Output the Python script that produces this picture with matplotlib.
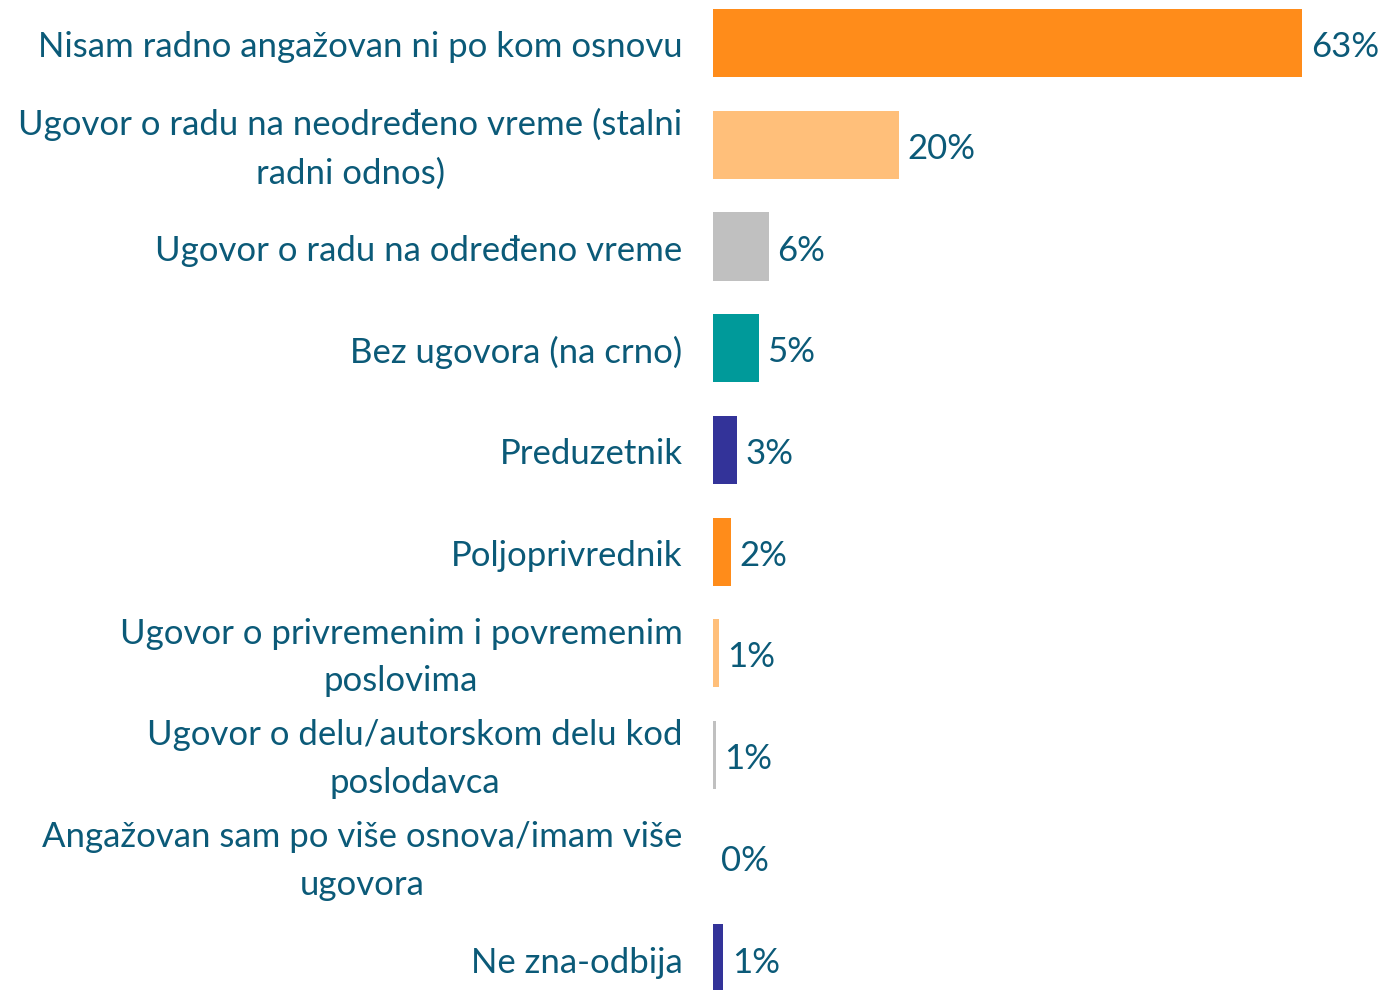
import matplotlib
matplotlib.use('Agg')
import matplotlib.pyplot as plt

# data
categories = [
    'Nisam radno angažovan ni po kom osnovu',
    'Ugovor o radu na neodređeno vreme (stalni\nradni odnos)',
    'Ugovor o radu na određeno vreme',
    'Bez ugovora (na crno)',
    'Preduzetnik',
    'Poljoprivrednik',
    'Ugovor o privremenim i povremenim\nposlovima',
    'Ugovor o delu/autorskom delu kod\nposlodavca',
    'Angažovan sam po više osnova/imam više\nugovora',
    'Ne zna-odbija',
]
values = [63.0, 19.9, 6.0, 4.9, 2.6, 1.9, 0.6, 0.3, 0.0, 1.1]
value_labels = ['63%', '20%', '6%', '5%', '3%', '2%', '1%', '1%', '0%', '1%']
bar_colors = ['#FF8C1A', '#FFBF7A', '#C0C0C0', '#009A9A', '#333399',
              '#FF8C1A', '#FFBF7A', '#C0C0C0', '#009A9A', '#333399']

text_color = '#0B5A78'

fig = plt.figure(figsize=(13.82, 9.90), dpi=100)
ax = fig.add_axes([713 / 1382, 0.0, 1 - 713 / 1382, 1.0])

y = list(range(len(categories)))
ax.barh(y, values, height=0.67, color=bar_colors)

ax.set_ylim(9.31, -0.423)
ax.set_xlim(0, 71.5)

for yi, v, lab in zip(y, values, value_labels):
    ax.annotate(lab, xy=(v, yi), xytext=(6, -3), textcoords='offset points',
                va='center', ha='left', fontsize=25, color=text_color,
                fontfamily='Lato')

for yi, cat in zip(y, categories):
    ax.annotate(cat, xy=(0, yi), xytext=(-22, -3), textcoords='offset points',
                va='center', ha='right', multialignment='center',
                fontsize=25, color=text_color, fontfamily='Lato',
                linespacing=1.6)

ax.axis('off')

fig.savefig('out.png', dpi=100)
